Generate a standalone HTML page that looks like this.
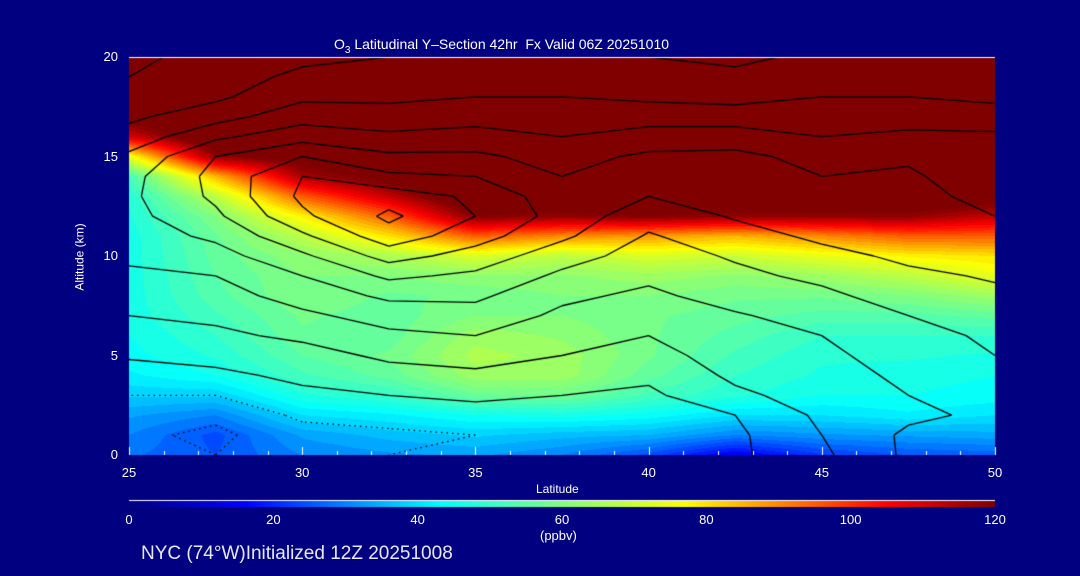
<!DOCTYPE html>
<html><head><meta charset="utf-8"><style>
html,body{margin:0;padding:0;background:#000080;}
#wrap{position:relative;width:1080px;height:576px;background:#000080;overflow:hidden;font-family:"Liberation Sans",sans-serif;color:#fff;}
.t{position:absolute;color:#fff;font-size:13px;white-space:nowrap;}
canvas{position:absolute;left:0;top:0;}
</style></head><body>
<div id="wrap">
<canvas id="cv" width="1080" height="576"></canvas>
<div class="t" style="left:334px;top:36px;font-size:14px;">O<sub style="font-size:10px">3</sub> Latitudinal Y&#8211;Section 42hr&nbsp; Fx Valid 06Z 20251010</div>
<div class="t" style="left:46px;top:250px;transform:rotate(-90deg);font-size:12px;">Altitude (km)</div>
<div class="t" style="left:536px;top:482px;font-size:12px;">Latitude</div>
<div class="t" style="left:540px;top:528px;font-size:13px;">(ppbv)</div>
<div class="t" style="left:141px;top:543px;font-size:19px;color:#e8e8f0;">NYC (74°W)Initialized 12Z 20251008</div>
<div id="labels"></div>
</div>
<script>
const lats=[25,27.5,30,32.5,35,37.5,40,42.5,45,47.5,50];
const alts=[0,1,2,3,4,5,6,7,8,9,10,11,12,13,14,15,16,17,18,19,20];
const ozone=[
[28,30,33,38,42,44,45,46,46,46,46,46,47,48,52,75,110,125,130,130,130],
[25,24,30,38,45,48,50,52,54,55,56,57,60,68,85,118,130,130,130,130,130],
[30,33,40,47,52,55,57,58,60,60,62,68,78,95,115,125,130,130,130,130,130],
[32,36,42,50,56,58,56,56,57,60,66,80,95,112,125,130,130,130,130,130,130],
[33,38,45,57,64,66,64,60,58,62,72,95,120,130,130,130,130,130,130,130,130],
[30,36,46,58,64,64,62,60,60,62,68,90,118,130,130,130,130,130,130,130,130],
[24,35,44,52,56,58,58,58,60,64,72,88,120,130,130,130,130,130,130,130,130],
[14,30,40,48,50,52,54,56,58,62,70,85,118,130,130,130,130,130,130,130,130],
[22,32,40,45,47,48,50,54,58,64,74,90,118,130,130,130,130,130,130,130,130],
[25,33,42,45,46,48,50,54,60,68,78,95,118,130,130,130,130,130,130,130,130],
[26,34,40,44,45,47,50,56,64,74,80,95,112,125,130,130,130,130,130,130,130]];
const contourField=[
[-8,-9,-8,-5,-2,0.5,3,5,7,9,11,12.5,13.5,14,13.5,11,7,4,2,0,-1],
[-10,-11,-9,-5,-1,1.5,4,6,8,10,13,16,19,21,21.5,20,14,8,4,3,1.5],
[-8,-7,-4,-1,1,3,6,9,12,15,19,24,29,31,30,25,18,13,9,6,4],
[-5,-6,-3,0,3,6,9,12,16,21,27,33,36,33,26,21,16,12,9,7,5],
[-4,-5,-2,1,4,7,10,13,16,19,23,27,30,29,25,21,17,13,10,8,6],
[-4,-5,-2,0,3,5,7,9,11,14,17,21,23,22,20,18,15,13,10,9,7],
[-3,-4,-2,-1,1,3,5,7,9,11,13,14.5,17,20,22,21,17,13,9,7,5],
[-1,-1,0,4,6,7.5,8.5,9.5,12,14,15.5,18,20.5,22,23,21.5,17,13,8,6,4],
[4,5,6,7,8,9,10,12,14,16,18.5,21,22,21,20,18,15,12,10,8,6],
[11,11,9,10,11,12,13,15,17,19,21,22,22,22,21,19,16,13,10,8,6],
[12,10,11,13,14,15,16,17.5,19,20.5,21,21,20,18,16,17,16,12,9,7,6]];
const levels=[-10,-5,0,5,10,15,20,25,30,35];
const xTicks=[25,30,35,40,45,50];
const yTicks=[0,5,10,15,20];
const cbTicks=[0,20,40,60,80,100,120];

const PL=129,PR=995,PT=57,PB=455;
const xs=v=>PL+(v-25)/25*(PR-PL);
const ys=v=>PB-(v/20)*(PB-PT);
const stops=[[0,0,0,128],[16,0,0,255],[43,0,255,255],[60,128,255,128],[77,255,255,0],[105,255,0,0],[120,128,0,0]];
function cmap(v){v=Math.max(0,Math.min(120,v));for(let i=1;i<stops.length;i++){if(v<=stops[i][0]){const a=stops[i-1],b=stops[i],t=(v-a[0])/(b[0]-a[0]);return [a[1]+t*(b[1]-a[1]),a[2]+t*(b[2]-a[2]),a[3]+t*(b[3]-a[3])];}}return [128,0,0];}
function interp(g,lat,z){let i=0;while(i<lats.length-2&&lat>lats[i+1])i++;let j=0;while(j<alts.length-2&&z>alts[j+1])j++;
const tx=(lat-lats[i])/(lats[i+1]-lats[i]),ty=(z-alts[j])/(alts[j+1]-alts[j]);
return g[i][j]*(1-tx)*(1-ty)+g[i+1][j]*tx*(1-ty)+g[i][j+1]*(1-tx)*ty+g[i+1][j+1]*tx*ty;}
const cv=document.getElementById('cv'),ctx=cv.getContext('2d');
const W=PR-PL,H=PB-PT,img=ctx.createImageData(W,H);
for(let py=0;py<H;py++){const z=(PB-(PT+py+0.5))/(PB-PT)*20;for(let px=0;px<W;px++){const lat=25+(px+0.5)/W*25;let v=interp(ozone,lat,z);v=Math.floor(v/2.5)*2.5+1.25;const c=cmap(v);const k=(py*W+px)*4;img.data[k]=c[0];img.data[k+1]=c[1];img.data[k+2]=c[2];img.data[k+3]=255;}}
ctx.putImageData(img,PL,PT);
ctx.strokeStyle='#000';ctx.lineWidth=1.3;
for(const L of levels){ctx.setLineDash(L<0?[1.5,4]:[]);ctx.beginPath();
for(let i=0;i<lats.length-1;i++)for(let j=0;j<alts.length-1;j++){
const c=[[lats[i],alts[j],contourField[i][j]],[lats[i+1],alts[j],contourField[i+1][j]],[lats[i+1],alts[j+1],contourField[i+1][j+1]],[lats[i],alts[j+1],contourField[i][j+1]]];
const pts=[];for(let e=0;e<4;e++){const a=c[e],b=c[(e+1)%4];if((a[2]<L)!==(b[2]<L)){const t=(L-a[2])/(b[2]-a[2]);pts.push([xs(a[0]+t*(b[0]-a[0])),ys(a[1]+t*(b[1]-a[1]))]);}}
for(let k=0;k+1<pts.length;k+=2){ctx.moveTo(pts[k][0],pts[k][1]);ctx.lineTo(pts[k+1][0],pts[k+1][1]);}}
ctx.stroke();}
ctx.setLineDash([]);
ctx.strokeStyle='#fff';ctx.lineWidth=1;
ctx.beginPath();ctx.moveTo(PL,PT+0.5);ctx.lineTo(PR,PT+0.5);ctx.stroke();
ctx.beginPath();for(let d=25;d<=50;d++){const x=Math.round(xs(d))+0.5;ctx.moveTo(x,PB);ctx.lineTo(x,PB-(d%5==0?8:4));}ctx.stroke();
const CT=501,CH=6;
ctx.beginPath();ctx.moveTo(PL,CT-0.5);ctx.lineTo(PR,CT-0.5);ctx.stroke();
for(let px=0;px<W;px++){const c=cmap(px/W*120);ctx.fillStyle='rgb('+c.map(Math.round).join(',')+')';ctx.fillRect(PL+px,CT,1,CH);}
const lab=document.getElementById('labels');
function addLabel(txt,x,y,name,align){const d=document.createElement('div');d.className='t';d.textContent=txt;d.style.top=y+'px';d.style.left=x+'px';d.style.transform=align;


lab.appendChild(d);}
xTicks.forEach(v=>addLabel(String(v),xs(v),465,'x-tick-label','translateX(-50%)'));
yTicks.forEach(v=>addLabel(String(v),118,ys(v)-8,'y-tick-label','translateX(-100%)'));
cbTicks.forEach(v=>addLabel(String(v),PL+v/120*W,512,'colorbar-tick-label','translateX(-50%)'));
</script>
</body></html>
